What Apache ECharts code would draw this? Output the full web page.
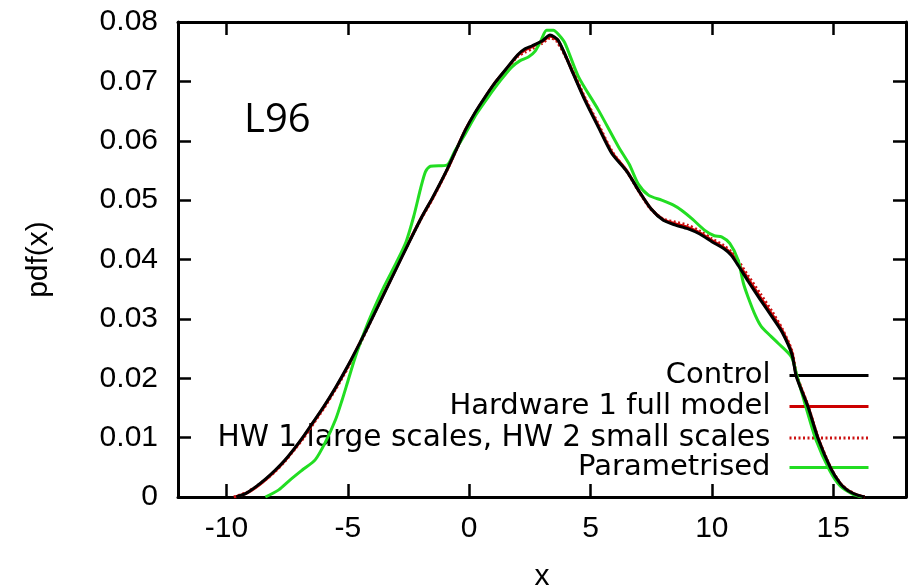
<!DOCTYPE html>
<html>
<head>
<meta charset="utf-8">
<script src="https://cdn.jsdelivr.net/npm/echarts@6/dist/echarts.min.js"></script>
<style>
  html, body { margin: 0; padding: 0; background: #fff; }
  #chart { width: 913px; height: 588px; }
</style>
</head>
<body>
<div id="chart"></div>
<script>
// Probability density estimates of the L96 variable x for four model runs.
const seriesNames = [
  'Control',
  'Hardware 1 full model',
  'HW 1 large scales, HW 2 small scales',
  'Parametrised'
];

const xTickValues = [-10, -5, 0, 5, 10, 15];
const yTickValues = [0, 0.01, 0.02, 0.03, 0.04, 0.05, 0.06, 0.07, 0.08];

const controlPdf = [
  [-9.6, 0], [-9.2, 0.0006], [-8.8, 0.0017], [-8.4, 0.003], [-8.0, 0.0045],
  [-7.6, 0.0062], [-7.2, 0.0082], [-6.8, 0.0104], [-6.4, 0.0128], [-6.0, 0.0152],
  [-5.5, 0.0185], [-5.0, 0.0221], [-4.5, 0.026], [-4.0, 0.0301],
  [-3.5, 0.0343], [-3.0, 0.0385], [-2.5, 0.0427], [-1.95, 0.0472], [-1.5, 0.0505],
  [-0.92, 0.0551], [-0.5, 0.0588], [-0.16, 0.0618], [0.25, 0.0648], [0.66, 0.0674],
  [1.05, 0.0697], [1.5, 0.072], [2.0, 0.0745], [2.3, 0.0755], [2.6, 0.076],
  [3.0, 0.0768], [3.33, 0.0778], [3.67, 0.0769], [4.22, 0.0719], [4.77, 0.0668],
  [5.32, 0.0623], [5.87, 0.0579], [6.5, 0.0548], [7.0, 0.0515], [7.5, 0.0485],
  [8.0, 0.0466], [8.5, 0.0458], [9.0, 0.0452], [9.5, 0.0443], [10.0, 0.043],
  [10.5, 0.0418], [10.8, 0.0407], [11.1, 0.0389], [11.5, 0.0363], [12.0, 0.0332],
  [12.5, 0.0302], [12.9, 0.0277], [13.3, 0.024], [13.48, 0.0203], [13.96, 0.0152],
  [14.37, 0.0099], [14.9, 0.0048], [15.3, 0.0022], [15.6, 0.0011], [16.0, 0.0003],
  [16.3, 0]
];

const hardwareFullPdf = [
  [-9.65, 0], [-9.2, 0.0006], [-8.8, 0.0016], [-8.4, 0.0029], [-8.0, 0.0044],
  [-7.6, 0.0061], [-7.2, 0.0081], [-6.8, 0.0103], [-6.4, 0.0127], [-6.0, 0.0151],
  [-5.5, 0.0184], [-5.0, 0.022], [-4.5, 0.026], [-4.0, 0.0302],
  [-3.5, 0.0344], [-3.0, 0.0386], [-2.5, 0.0428], [-1.95, 0.0472], [-1.5, 0.0504],
  [-0.92, 0.055], [-0.5, 0.0588], [-0.16, 0.0618], [0.25, 0.0647], [0.66, 0.0673],
  [1.05, 0.0697], [1.5, 0.0719], [2.0, 0.0744], [2.3, 0.0753], [2.6, 0.0759],
  [3.0, 0.0767], [3.33, 0.0776], [3.67, 0.0768], [4.22, 0.072], [4.77, 0.067],
  [5.32, 0.0625], [5.87, 0.0581], [6.5, 0.0549], [7.0, 0.0515], [7.5, 0.0485],
  [8.0, 0.0467], [8.5, 0.046], [9.0, 0.0454], [9.5, 0.0445], [10.0, 0.0432],
  [10.5, 0.042], [10.8, 0.041], [11.1, 0.0392], [11.5, 0.0367], [12.0, 0.0336],
  [12.5, 0.0306], [12.9, 0.028], [13.3, 0.0243], [13.48, 0.0205], [13.96, 0.0153],
  [14.37, 0.01], [14.9, 0.0048], [15.3, 0.0022], [15.6, 0.0011], [16.0, 0.0003],
  [16.3, 0]
];

const hwMixedPdf = [
  [-9.7, 0], [-9.2, 0.0007], [-8.8, 0.0017], [-8.4, 0.0029], [-8.0, 0.0043],
  [-7.6, 0.006], [-7.2, 0.008], [-6.8, 0.0101], [-6.4, 0.0125], [-6.0, 0.0149],
  [-5.5, 0.0182], [-5.0, 0.0218], [-4.5, 0.0258], [-4.0, 0.0301],
  [-3.5, 0.0344], [-3.0, 0.0387], [-2.5, 0.0428], [-1.95, 0.0471], [-1.5, 0.0503],
  [-0.92, 0.055], [-0.5, 0.0587], [-0.16, 0.0617], [0.25, 0.0647], [0.66, 0.0673],
  [1.05, 0.0696], [1.5, 0.0718], [2.0, 0.0742], [2.3, 0.0749], [2.6, 0.0755],
  [3.0, 0.0764], [3.33, 0.0773], [3.6, 0.0768], [4.22, 0.0722], [4.77, 0.0672],
  [5.32, 0.0628], [5.87, 0.0583], [6.5, 0.0548], [7.0, 0.0514], [7.5, 0.0484],
  [8.0, 0.0468], [8.5, 0.0463], [9.0, 0.0458], [9.5, 0.0448], [10.0, 0.0435],
  [10.5, 0.0423], [10.8, 0.0413], [11.1, 0.0397], [11.5, 0.0372], [12.0, 0.0342],
  [12.5, 0.0311], [12.9, 0.0283], [13.3, 0.0246], [13.48, 0.0207], [13.96, 0.0154],
  [14.37, 0.0101], [14.9, 0.0049], [15.3, 0.0023], [15.6, 0.0012], [16.0, 0.0003],
  [16.3, 0]
];

const parametrisedPdf = [
  [-8.4, 0], [-7.85, 0.0012], [-7.4, 0.0028], [-6.89, 0.0045], [-6.34, 0.0063],
  [-5.93, 0.0092], [-5.51, 0.013], [-5.24, 0.0163], [-5.0, 0.0195], [-4.7, 0.0235],
  [-4.3, 0.028], [-4.0, 0.031], [-3.5, 0.0355], [-3.0, 0.0395], [-2.6, 0.043],
  [-2.29, 0.0472], [-2.0, 0.052], [-1.8, 0.0548], [-1.6, 0.0557], [-0.92, 0.0559],
  [-0.6, 0.0582], [-0.16, 0.0612], [0.3, 0.0645], [0.79, 0.0674], [1.3, 0.0702],
  [1.75, 0.0724], [2.1, 0.0735], [2.44, 0.0741], [2.7, 0.075], [2.95, 0.0768],
  [3.19, 0.0786], [3.47, 0.0786], [3.7, 0.0778], [3.95, 0.0764], [4.5, 0.0708],
  [5.32, 0.0652], [6.15, 0.059], [6.6, 0.056], [6.97, 0.0527], [7.4, 0.0508],
  [7.93, 0.05], [8.4, 0.0492], [8.75, 0.0483], [9.2, 0.0468], [9.71, 0.0449],
  [10.1, 0.044], [10.4, 0.0438], [10.74, 0.0427], [11.08, 0.0399], [11.3, 0.036],
  [11.49, 0.0337], [11.8, 0.0305], [12.04, 0.0287], [12.4, 0.0272], [12.73, 0.0259],
  [13.28, 0.0236], [13.5, 0.0205], [13.9, 0.0148], [14.3, 0.0095], [14.85, 0.0045],
  [15.3, 0.0018], [15.8, 0.0005], [16.2, 0]
];

const tickFont = 'Liberation Sans, Arial, sans-serif';
const legendFont = 'DejaVu Sans, sans-serif';
const frameWidth = 3;
const tickLen = 13;

const chart = echarts.init(document.getElementById('chart'), null, { renderer: 'canvas' });

function frameAxis(base) {
  return Object.assign({
    type: 'value',
    axisLine: { show: true, onZero: false, lineStyle: { color: '#000', width: frameWidth } },
    splitLine: { show: false }
  }, base);
}

const legendRows = [376, 407, 438, 468];

const option = {
  animation: false,
  backgroundColor: '#fff',
  grid: { left: 178, right: 7, top: 22, bottom: 91, containLabel: false, outerBoundsMode: 'none' },
  xAxis: [
    frameAxis({
      position: 'bottom', min: -12, max: 18,
      name: 'x', nameLocation: 'middle', nameGap: 65,
      nameTextStyle: { fontFamily: tickFont, fontSize: 30, color: '#000' },
      axisTick: { show: true, inside: true, length: tickLen, customValues: xTickValues,
                  lineStyle: { color: '#000', width: 2.5 } },
      axisLabel: { show: true, customValues: xTickValues, margin: 17,
                   fontFamily: tickFont, fontSize: 30, color: '#000' }
    }),
    frameAxis({
      position: 'top', min: -12, max: 18,
      axisTick: { show: true, inside: true, length: tickLen, customValues: xTickValues,
                  lineStyle: { color: '#000', width: 2.5 } },
      axisLabel: { show: false }
    })
  ],
  yAxis: [
    frameAxis({
      position: 'left', min: 0, max: 0.08, interval: 0.01,
      name: 'pdf(x)', nameLocation: 'middle', nameGap: 124, nameRotate: 90,
      nameTextStyle: { fontFamily: tickFont, fontSize: 30, color: '#000' },
      axisTick: { show: true, inside: true, length: tickLen,
                  lineStyle: { color: '#000', width: 2.5 } },
      axisLabel: {
        show: true, margin: 20, fontFamily: tickFont, fontSize: 30, color: '#000',
        customValues: yTickValues,
        formatter: v => (Math.abs(v) < 1e-9 ? '0' : v.toFixed(2))
      }
    }),
    frameAxis({
      position: 'right', min: 0, max: 0.08, interval: 0.01,
      axisTick: { show: true, inside: true, length: tickLen,
                  lineStyle: { color: '#000', width: 2.5 } },
      axisLabel: { show: false }
    })
  ],
  legend: seriesNames.map((name, i) => ({
    data: [name],
    z: 1,
    selectedMode: false,
    right: 43,
    top: legendRows[i] - 15,
    align: 'right',
    itemWidth: 79,
    itemHeight: 14,
    padding: 0,
    itemStyle: { opacity: 0 },
    lineStyle: { width: 3 },
    textStyle: { fontFamily: legendFont, fontSize: i === 2 ? 29.6 : 29, color: '#000', padding: [0, 14, 0, 0] }
  })),
  graphic: [{
    type: 'text',
    left: 244,
    top: 101,
    z: 1,
    style: { text: 'L96', fontFamily: 'Open Sans, sans-serif', fontSize: 40, fill: '#000' }
  }],
  series: [
    {
      name: seriesNames[1], type: 'line', data: hardwareFullPdf, smooth: 0.25,
      showSymbol: false, symbol: 'none', z: 3,
      lineStyle: { color: '#cc0000', width: 3 }, itemStyle: { color: '#cc0000' }
    },
    {
      name: seriesNames[2], type: 'line', data: hwMixedPdf, smooth: 0.25,
      showSymbol: false, symbol: 'none', z: 4,
      lineStyle: { color: '#cc1111', width: 3, type: [2, 2.5] }, itemStyle: { color: '#cc1111' }
    },
    {
      name: seriesNames[3], type: 'line', data: parametrisedPdf, smooth: 0.25,
      showSymbol: false, symbol: 'none', z: 5,
      lineStyle: { color: '#22dd22', width: 3 }, itemStyle: { color: '#22dd22' }
    },
    {
      name: seriesNames[0], type: 'line', data: controlPdf, smooth: 0.25,
      showSymbol: false, symbol: 'none', z: 6,
      lineStyle: { color: '#000', width: 3 }, itemStyle: { color: '#000' }
    }
  ]
};

chart.setOption(option);
</script>
</body>
</html>
